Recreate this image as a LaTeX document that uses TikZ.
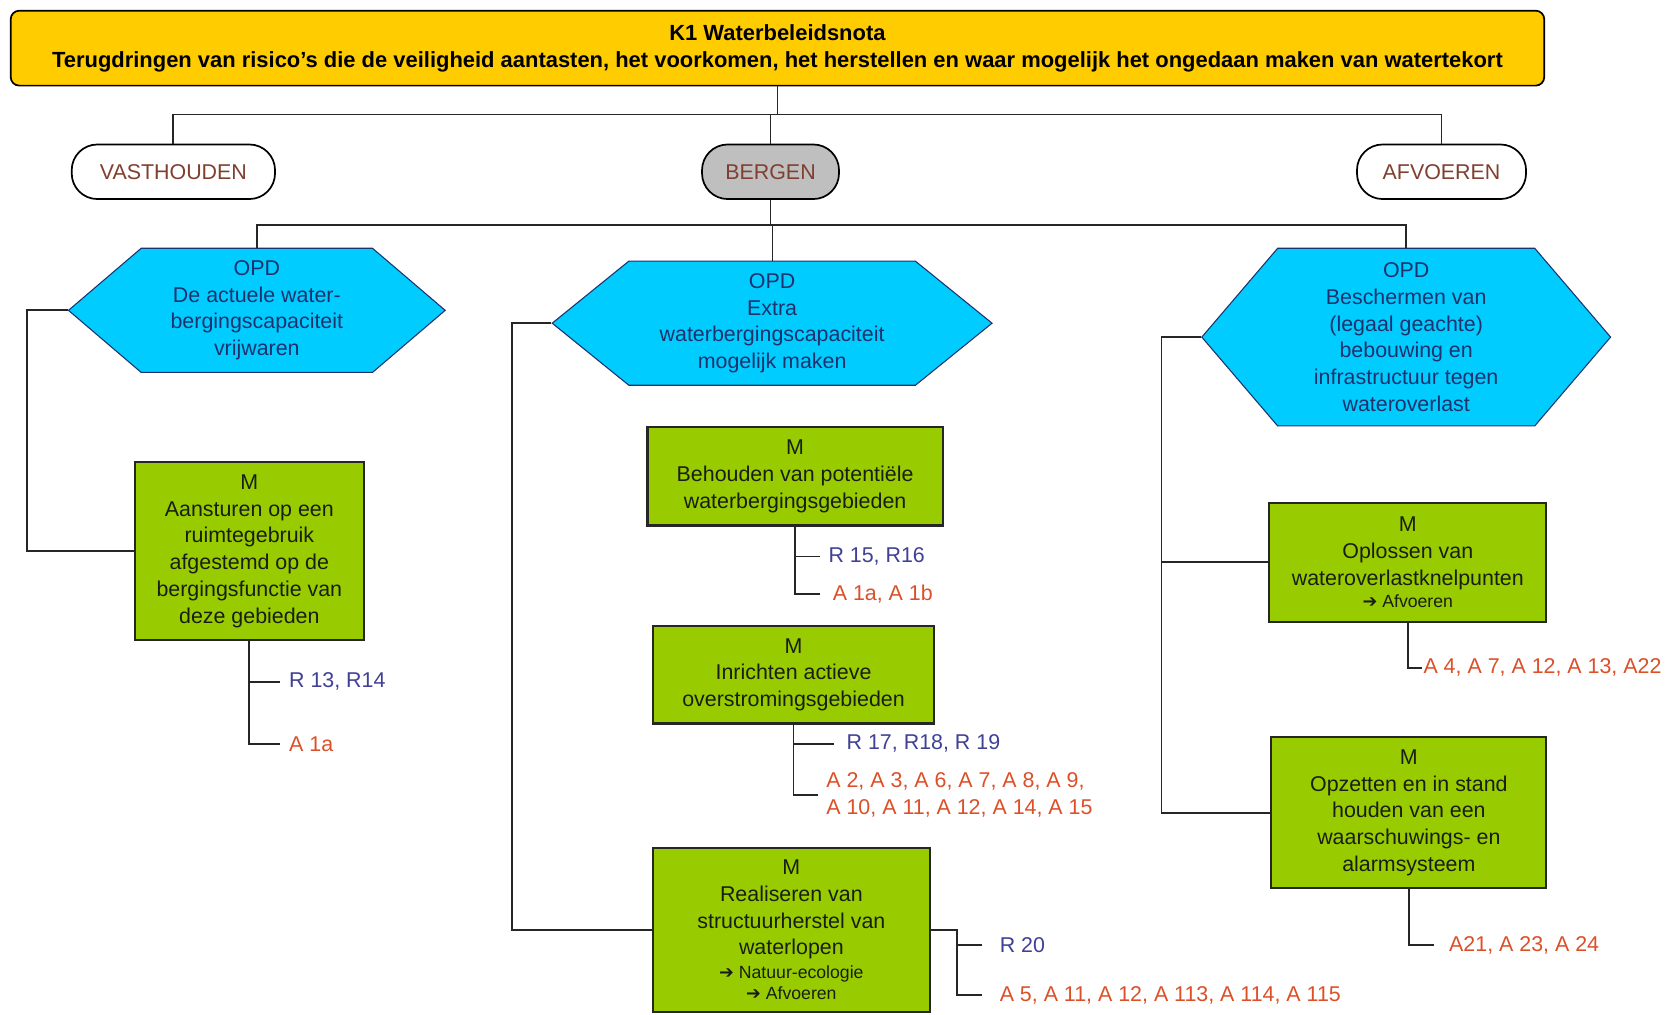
\documentclass[tikz,border=0pt]{standalone}
\usepackage{fontspec}
\setmainfont{Liberation Sans}
\newfontfamily\pijlfont{DejaVu Sans}
\usepackage{tikz}
\usetikzlibrary{shapes.symbols}

\definecolor{kgeel}{HTML}{FFCC00}
\definecolor{opdblauw}{HTML}{00CCFF}
\definecolor{opdtekst}{RGB}{30,50,110}
\definecolor{mgroen}{HTML}{99CC00}
\definecolor{mtekst}{RGB}{25,30,20}
\definecolor{pilbruin}{RGB}{128,64,48}
\definecolor{rblauw}{RGB}{64,64,150}
\definecolor{arood}{RGB}{220,80,40}

\newcommand{\txtfont}{\fontsize{20}{25}\selectfont}
\newcommand{\kopfont}{\fontsize{20.5}{25}\selectfont\bfseries}
\newcommand{\kleinfont}{\fontsize{16.5}{18}\selectfont}
\newcommand{\pijl}{{\pijlfont\char"2794}}

\begin{document}
\begin{tikzpicture}[x=1pt,y=-1pt,
	kop/.style={draw=black, line width=1.6pt, rounded corners=8pt, fill=kgeel, align=center, font=\kopfont, inner sep=0pt},
	pil/.style={draw=black, line width=1.6pt, rounded corners=24pt, fill=white, text=pilbruin, font=\txtfont, minimum height=51pt, inner sep=0pt},
	opd/.style={signal, signal to=west and east, draw=opdtekst, line width=1pt, fill=opdblauw, text=opdtekst, align=center, font=\txtfont, inner sep=0pt},
	mbox/.style={draw=black!85, line width=2pt, fill=mgroen, text=mtekst, align=center, font=\txtfont, inner sep=0pt},
	rref/.style={anchor=west, text=rblauw, font=\txtfont, inner xsep=8pt},
	aref/.style={anchor=west, text=arood, align=left, font=\txtfont, inner xsep=8pt},
	link/.style={draw=black!85, line width=1.8pt},
	dunlink/.style={draw=black!85, line width=1.1pt}]

	\fill[white] (0,0) rectangle (1568,948);
	\useasboundingbox (0,0) rectangle (1568,948);

	% top
	\node[kop, minimum width=1433pt, minimum height=70pt] (k1) at (726.5,45) {K1 Waterbeleidsnota\\Terugdringen van risico’s die de veiligheid aantasten, het voorkomen, het herstellen en waar mogelijk het ongedaan maken van watertekort};
	\node[pil, minimum width=190pt] (vast) at (162,160.5) {VASTHOUDEN};
	\node[pil, minimum width=128pt, fill=black!25] (berg) at (720,160.5) {BERGEN};
	\node[pil, minimum width=158pt] (afv) at (1347,160.5) {AFVOEREN};

	% doelstellingen
	\node[opd, minimum width=352pt, minimum height=116pt, signal pointer angle=81] (opdL) at (240,290) {OPD\\De actuele water-\\bergingscapaciteit\\vrijwaren};
	\node[opd, minimum width=411pt, minimum height=116pt, signal pointer angle=78] (opdM) at (721.5,302) {OPD\\Extra\\waterbergingscapaciteit\\mogelijk maken};
	\node[opd, minimum width=382pt, minimum height=166pt, signal pointer angle=99] (opdR) at (1314,315) {OPD\\Beschermen van\\(legaal geachte)\\bebouwing en\\infrastructuur tegen\\wateroverlast};

	% maatregelen
	\node[mbox, minimum width=214pt, minimum height=166pt] (mL) at (233,515) {M\\Aansturen op een\\ruimtegebruik\\afgestemd op de\\bergingsfunctie van\\deze gebieden};
	\node[mbox, minimum width=276pt, minimum height=92pt] (mB1) at (743,445) {M\\Behouden van potentiële\\waterbergingsgebieden};
	\node[mbox, minimum width=263pt, minimum height=91pt] (mB2) at (741.5,630.5) {M\\Inrichten actieve\\overstromingsgebieden};
	\node[mbox, minimum width=259pt, minimum height=154pt] (mB3) at (739.5,869) {M\\Realiseren van\\structuurherstel van\\waterlopen\\[-3pt]{\kleinfont\pijl{} Natuur-ecologie}\\[-5pt]{\kleinfont\pijl{} Afvoeren}};
	\node[mbox, minimum width=259pt, minimum height=111pt] (mC1) at (1315.5,525.5) {M\\Oplossen van\\wateroverlastknelpunten\\[-4pt]{\kleinfont\pijl{} Afvoeren}};
	\node[mbox, minimum width=257pt, minimum height=141pt] (mC2) at (1316.5,759.5) {M\\Opzetten en in stand\\houden van een\\waarschuwings- en\\alarmsysteem};

	% referenties
	\node[rref] (rL) at (262,637) {R 13, R14};
	\node[aref] (aL) at (262,695) {A 1a};
	\node[rref] (rB1) at (766,520) {R 15, R16};
	\node[aref, inner xsep=12pt] (aB1) at (766,555) {A 1a, A 1b};
	\node[rref, inner xsep=12pt] (rB2) at (779,695) {R 17, R18, R 19};
	\node[aref] (aB2) at (764,743) {A 2, A 3, A 6, A 7, A 8, A 9,\\A 10, A 11, A 12, A 14, A 15};
	\node[rref, inner xsep=16pt] (rB3) at (918,883) {R 20};
	\node[aref, inner xsep=16pt] (aB3) at (918,930) {A 5, A 11, A 12, A 113, A 114, A 115};
	\node[aref, inner xsep=1pt] (aC1) at (1329,624) {A 4, A 7, A 12, A 13, A22};
	\node[aref, inner xsep=14pt] (aC2) at (1340,883) {A21, A 23, A 24};

	% lijnen
	\coordinate (bus1) at (726.5,107);
	\coordinate (bus2) at (720,210);
	\draw[link] (k1.south) -- (bus1);
	\draw[link] (vast.north) |- (bus1) -| (afv.north);
	\draw[dunlink] (berg.north) -- (berg.north |- bus1);
	\draw[link] (berg.south) -- (bus2);
	\draw[link] (opdL.north) |- (bus2) -| (opdR.north);
	\draw[dunlink] (opdM.north) -- (opdM.north |- bus2);

	\draw[link] (opdL.west) -- ++(-38,0) |- (mL.west);
	\draw[link] (opdM.west) -- ++(-37,0) |- (mB3.west);
	\draw[link] (opdR.west) -- ++(-37,0) |- (mC1.west);
	\draw[link] (opdR.west) -- ++(-37,0) |- (mC2.west);

	\draw[link] (mL.south) |- (rL.west);
	\draw[link] (mL.south) |- (aL.west);
	\draw[link] (mB1.south) |- (rB1.west);
	\draw[link] (mB1.south) |- (aB1.west);
	\draw[link] (mB2.south) |- (rB2.west);
	\draw[link] (mB2.south) |- (aB2.west);
	\draw[link] (mB3.east) -- ++(24,0) |- (rB3.west);
	\draw[link] (mB3.east) -- ++(24,0) |- (aB3.west);
	\draw[link] (mC1.south) |- (aC1.west);
	\draw[link] (mC2.south) |- (aC2.west);
\end{tikzpicture}
\end{document}
